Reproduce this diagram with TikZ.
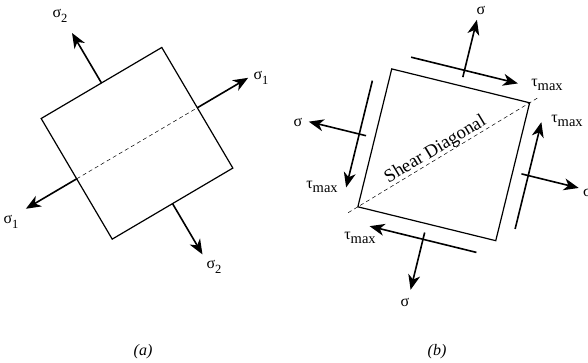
\documentclass[tikz,border=0pt]{standalone}
\usepackage{fontspec}
\setmainfont{Liberation Serif}
\usetikzlibrary{arrows.meta}
\newcommand{\mysig}[1]{σ\raisebox{-4.5pt}{\fontsize{12.5}{12.5}\selectfont #1}}
\newcommand{\mytau}{τ\raisebox{-4.5pt}{\fontsize{14.5}{14.5}\selectfont max}}
\begin{document}
\begin{tikzpicture}[x=1pt,y=-1pt,
  edge/.style={line width=1.2pt},
  force/.style={line width=1.6pt,-{Stealth[length=15pt,width=12pt,inset=4.5pt]}},
  diag/.style={line width=0.5pt, dash pattern=on 4pt off 3pt},
  lab/.style={inner sep=0pt, font=\fontsize{16}{16}\selectfont},
  captionlab/.style={inner sep=0pt, font=\fontsize{16}{16}\selectfont\itshape}]
\useasboundingbox (0,0) rectangle (588,363);

% ---------- (a) ----------
\begin{scope}[shift={(137,143.3)}, rotate=30.5]
  \coordinate (aL) at (-70,-70);
  \coordinate (aT) at (70,-70);
  \coordinate (aR) at (70,70);
  \coordinate (aB) at (-70,70);
  \coordinate (aM1) at (70,0);
  \coordinate (aM2) at (-70,0);
  \coordinate (aM3) at (0,-70);
  \coordinate (aM4) at (0,70);
  \coordinate (aS1) at (129,0);
  \coordinate (aS2) at (-129,0);
  \coordinate (aS3) at (0,-128);
  \coordinate (aS4) at (0,129);
\end{scope}
\draw[edge] (aL) -- (aT) -- (aR) -- (aB) -- cycle;
\draw[diag] (aM2) -- (aM1);
\draw[force] (aM1) -- (aS1);
\draw[force] (aM2) -- (aS2);
\draw[force] (aM3) -- (aS3);
\draw[force] (aM4) -- (aS4);
\node[lab] (la1) at (60,16) {\mysig{2}};
\node[lab] (la2) at (261,78) {\mysig{1}};
\node[lab] (la3) at (11,222) {\mysig{1}};
\node[lab] (la4) at (214,267) {\mysig{2}};

% ---------- (b) ----------
\begin{scope}[shift={(443.75,154.8)}, rotate=-13.8]
  \coordinate (bTL) at (-71,-71);
  \coordinate (bTR) at (71,-71);
  \coordinate (bBR) at (71,71);
  \coordinate (bBL) at (-71,71);
  \coordinate (bD1) at (-79,79);
  \coordinate (bD2) at (79,-79);
  % normal stress arrows
  \coordinate (bN1a) at (0,-80);  \coordinate (bN1b) at (0,-139);
  \coordinate (bN2a) at (80,0);   \coordinate (bN2b) at (139,0);
  \coordinate (bN3a) at (0,80);   \coordinate (bN3b) at (0,139);
  \coordinate (bN4a) at (-80,0);  \coordinate (bN4b) at (-139,0);
  % shear arrows
  \coordinate (bT1a) at (-55,-87); \coordinate (bT1b) at (55,-87);
  \coordinate (bT2a) at (87,55);   \coordinate (bT2b) at (87,-55);
  \coordinate (bT3a) at (55,87);   \coordinate (bT3b) at (-55,87);
  \coordinate (bT4a) at (-87,-55); \coordinate (bT4b) at (-87,55);
  \node[inner sep=0pt, anchor=base, rotate=31, font=\fontsize{18.5}{18.5}\selectfont] (sd) at (-6,0.4) {Shear Diagonal};
\end{scope}
\draw[edge] (bTL) -- (bTR) -- (bBR) -- (bBL) -- cycle;
\draw[diag] (bD1) -- (bD2);
\draw[force] (bN1a) -- (bN1b);
\draw[force] (bN2a) -- (bN2b);
\draw[force] (bN3a) -- (bN3b);
\draw[force] (bN4a) -- (bN4b);
\draw[force] (bT1a) -- (bT1b);
\draw[force] (bT2a) -- (bT2b);
\draw[force] (bT3a) -- (bT3b);
\draw[force] (bT4a) -- (bT4b);
\node[lab] (lb1) at (481,10) {σ};
\node[lab] (lb2) at (547,85) {\mytau};
\node[lab] (lb3) at (567,121) {\mytau};
\node[lab, anchor=west] (lb4) at (583,192) {σ};
\node[lab] (lb5) at (360,238) {\mytau};
\node[lab] (lb6) at (322,187) {\mytau};
\node[lab] (lb7) at (298,122) {σ};
\node[lab] (lb8) at (405,302) {σ};

\node[captionlab] (ca) at (143,352) {(a)};
\node[captionlab] (cb) at (437,352) {(b)};
\end{tikzpicture}
\end{document}
